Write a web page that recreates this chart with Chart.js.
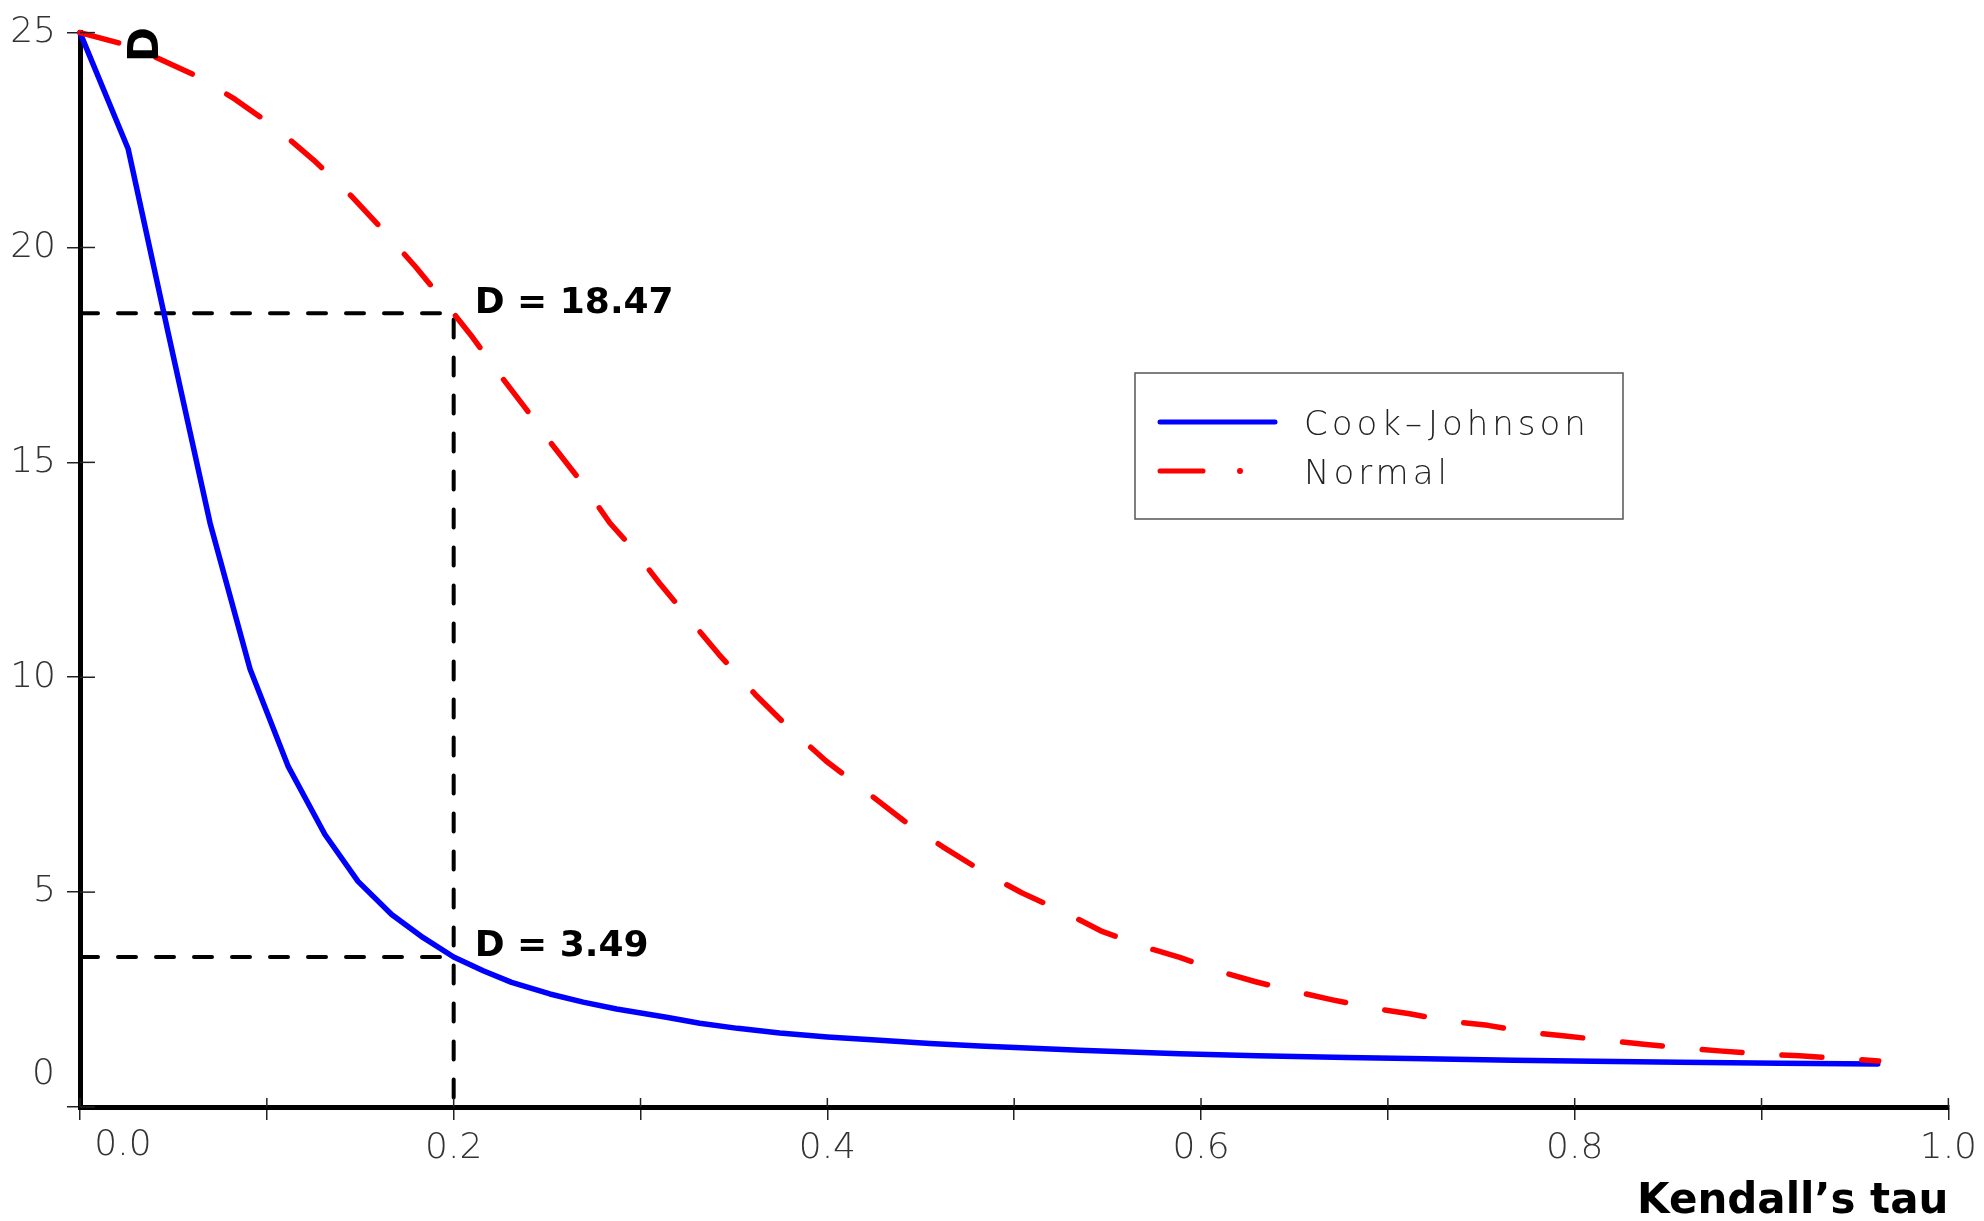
<!DOCTYPE html>
<html><head><meta charset="utf-8">
<script src="https://cdn.jsdelivr.net/npm/chart.js@4"></script>
<style>html,body{margin:0;padding:0;background:#fff;}canvas{display:block;}</style>
</head><body>
<canvas id="c" width="1984" height="1221" style="width:1984px;height:1221px"></canvas>
<script>
// ---- data ----
const tauCook = [0, 0.0258, 0.0476, 0.0696, 0.0910, 0.1115, 0.1311, 0.1488, 0.1668, 0.1837, 0.2000, 0.2158, 0.2310, 0.2515, 0.2693, 0.2872, 0.3139, 0.3317, 0.3520, 0.3745, 0.4000, 0.4280, 0.4550, 0.4815, 0.5100, 0.5350, 0.5886, 0.6300, 0.6780, 0.7200, 0.7670, 0.8100, 0.8560, 0.9100, 0.9622];
const dCook   = [25.0, 22.29, 17.93, 13.59, 10.19, 7.92, 6.34, 5.25, 4.48, 3.94, 3.49, 3.17, 2.90, 2.63, 2.44, 2.28, 2.09, 1.95, 1.83, 1.72, 1.63, 1.555, 1.48, 1.42, 1.365, 1.32, 1.24, 1.19, 1.15, 1.12, 1.09, 1.065, 1.04, 1.02, 1.00];
const tauNormal = [0, 0.0223, 0.0414, 0.0633, 0.0829, 0.1052, 0.1249, 0.1454, 0.1623, 0.1798, 0.1944, 0.2101, 0.2229, 0.2386, 0.2515, 0.2675, 0.2836, 0.2959, 0.3103, 0.3264, 0.3418, 0.3614, 0.3783, 0.3993, 0.4196, 0.4413, 0.4616, 0.4853, 0.5043, 0.5293, 0.5463, 0.5700, 0.5886, 0.6090, 0.6287, 0.6500, 0.6697, 0.6920, 0.7116, 0.7339, 0.7535, 0.7754, 0.7950, 0.8174, 0.8370, 0.8594, 0.8790, 0.9006, 0.9203, 0.9426, 0.9627];
const dNormal   = [25.0, 24.74, 24.41, 23.97, 23.45, 22.77, 22.04, 21.19, 20.40, 19.54, 18.77, 17.91, 17.14, 16.25, 15.48, 14.59, 13.59, 12.99, 12.18, 11.34, 10.54, 9.60, 8.87, 8.05, 7.38, 6.65, 6.06, 5.42, 4.98, 4.48, 4.10, 3.72, 3.48, 3.17, 2.92, 2.69, 2.50, 2.30, 2.17, 1.99, 1.90, 1.74, 1.65, 1.55, 1.46, 1.37, 1.30, 1.23, 1.19, 1.13, 1.07];
const markTau = 0.2;
const markNormal = 18.47;
const markCook = 3.49;
const xTickLabels = ['0.0', '0.2', '0.4', '0.6', '0.8', '1.0'];
const yTickLabels = ['0', '5', '10', '15', '20', '25'];
const legendLabels = ['Cook\u2013Johnson', 'Normal'];
const xTitle = 'Kendall\u2019s tau';
const yTitle = 'D';

const toPts = (xs, ys) => xs.map((v, i) => ({x: v, y: ys[i]}));
const thinFont = {family: "'DejaVu Sans', sans-serif", size: 36, weight: '200'};
const thinCss = "200 36px 'DejaVu Sans', sans-serif";
const legendCss = "200 34px 'DejaVu Sans', sans-serif";
const boldCss = (s) => "bold " + s + "px 'DejaVu Sans', sans-serif";

const overlay = {
  id: 'overlay',
  afterDraw(chart) {
    const {ctx, chartArea: a, scales: {x, y}} = chart;
    ctx.save();
    // inner halves of tick marks
    ctx.strokeStyle = '#222'; ctx.lineWidth = 1.5;
    x.ticks.forEach(t => { const px = x.getPixelForValue(t.value); ctx.beginPath(); ctx.moveTo(px, a.bottom - 9); ctx.lineTo(px, a.bottom); ctx.stroke(); });
    y.ticks.forEach(t => { const py = y.getPixelForValue(t.value); ctx.beginPath(); ctx.moveTo(a.left, py); ctx.lineTo(a.left + 15, py); ctx.stroke(); });
    // offset zero labels
    ctx.fillStyle = '#333'; ctx.font = thinCss; ctx.textBaseline = 'middle';
    ctx.textAlign = 'center';
    ctx.fillText(xTickLabels[0], x.getPixelForValue(0) + 43, a.bottom + 39);
    ctx.textAlign = 'right';
    ctx.fillText(yTickLabels[0], a.left - 25, y.getPixelForValue(0) - 32);
    // y title, rotated
    ctx.save();
    ctx.translate(a.left + 67, a.top + 12);
    ctx.rotate(-Math.PI / 2);
    ctx.fillStyle = '#000'; ctx.font = boldCss(42); ctx.textAlign = 'center'; ctx.textBaseline = 'middle';
    ctx.fillText(yTitle, 0, 0);
    ctx.restore();
    // annotations
    ctx.fillStyle = '#000'; ctx.font = boldCss(36); ctx.textAlign = 'left'; ctx.textBaseline = 'middle';
    const mx = x.getPixelForValue(markTau) + 21;
    ctx.fillText('D = ' + markNormal.toFixed(2), mx, y.getPixelForValue(markNormal) - 10);
    ctx.fillText('D = ' + markCook.toFixed(2), mx, y.getPixelForValue(markCook) - 10);
    // legend box
    const L = 1135, T = 373, R = 1623, B = 519;
    ctx.strokeStyle = '#555'; ctx.lineWidth = 1.5;
    ctx.strokeRect(L, T, R - L, B - T);
    ctx.lineCap = 'round'; ctx.lineWidth = 5;
    ctx.strokeStyle = '#0000ff';
    ctx.beginPath(); ctx.moveTo(L + 25, 422); ctx.lineTo(L + 140, 422); ctx.stroke();
    ctx.strokeStyle = '#ff0000';
    ctx.beginPath(); ctx.moveTo(L + 25, 471); ctx.lineTo(L + 68, 471); ctx.stroke();
    ctx.fillStyle = '#ff0000';
    ctx.beginPath(); ctx.arc(L + 105, 471, 3, 0, Math.PI * 2); ctx.fill();
    ctx.fillStyle = '#222'; ctx.font = legendCss; ctx.textAlign = 'left'; ctx.textBaseline = 'middle';
    ctx.letterSpacing = '4px';
    ctx.fillText(legendLabels[0], L + 169, 426);
    ctx.fillText(legendLabels[1], L + 169, 475);
    ctx.restore();
  }
};

new Chart(document.getElementById('c'), {
  type: 'line',
  data: {
    datasets: [
      {label: legendLabels[1], data: toPts(tauNormal, dNormal), borderColor: '#ff0000', borderWidth: 5.5, borderDash: [40, 40], borderCapStyle: 'round', borderJoinStyle: 'round', pointRadius: 0, tension: 0, fill: false, clip: false, order: 1},
      {label: legendLabels[0], data: toPts(tauCook, dCook), borderColor: '#0000ff', borderWidth: 5.5, borderCapStyle: 'round', borderJoinStyle: 'round', pointRadius: 0, tension: 0, fill: false, clip: false, order: 2},
      {label: 'ref1', data: [{x: 0, y: markNormal}, {x: markTau, y: markNormal}, {x: markTau, y: 0}], borderColor: '#000', borderWidth: 4, borderDash: [18, 20], borderCapStyle: 'round', pointRadius: 0, tension: 0, fill: false, clip: false, order: 3},
      {label: 'ref2', data: [{x: 0, y: markCook}, {x: markTau, y: markCook}], borderColor: '#000', borderWidth: 4, borderDash: [18, 20], borderCapStyle: 'round', pointRadius: 0, tension: 0, fill: false, clip: false, order: 3}
    ]
  },
  options: {
    responsive: false,
    animation: false,
    devicePixelRatio: 1,
    layout: {padding: {top: 27, right: 35, bottom: 0, left: 0}},
    plugins: {legend: {display: false}, tooltip: {enabled: false}},
    scales: {
      x: {
        type: 'linear', min: 0, max: 1,
        afterFit: (s) => { s.height = 114; },
        border: {display: true, color: '#000', width: 5},
        grid: {display: true, drawOnChartArea: false, drawTicks: true, tickLength: 13, color: '#222', lineWidth: 1.5},
        ticks: {
          stepSize: 0.1, autoSkip: false, maxRotation: 0, padding: 7,
          color: '#333', font: thinFont,
          callback: (v) => { const k = Math.round(v * 10); return (k % 2 === 0 && k !== 0) ? xTickLabels[k / 2] : ''; }
        },
        title: {display: true, text: xTitle, align: 'end', color: '#000', font: {family: "'DejaVu Sans', sans-serif", size: 42, weight: 'bold', lineHeight: 1}, padding: {top: 0, bottom: -2}}
      },
      y: {
        type: 'linear', min: 0, max: 25,
        afterFit: (s) => { s.width = 80; },
        border: {display: true, color: '#000', width: 5},
        grid: {display: true, drawOnChartArea: false, drawTicks: true, tickLength: 13, color: '#222', lineWidth: 1.5},
        ticks: {
          stepSize: 5, padding: 11, color: '#333', font: thinFont,
          callback: (v) => { const k = Math.round(v / 5); return k === 0 ? '' : yTickLabels[k]; }
        }
      }
    }
  },
  plugins: [overlay]
});
</script>
</body></html>
